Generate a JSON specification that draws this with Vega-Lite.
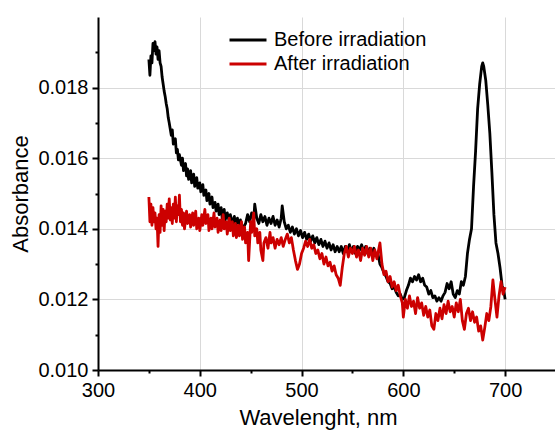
{
  "$schema": "https://vega.github.io/schema/vega-lite/v6.json",
  "autosize": "none",
  "width": 458,
  "height": 353,
  "padding": {"left": 98, "top": 17, "right": 0, "bottom": 60},
  "background": "white",
  "config": {
    "view": {"stroke": null},
    "axis": {
      "domainColor": "black", "domainWidth": 2,
      "tickColor": "black", "tickWidth": 2,
      "labelFont": "Liberation Sans", "labelFontSize": 20, "labelColor": "black",
      "titleFont": "Liberation Sans", "titleFontSize": 22, "titleFontWeight": "normal", "titleColor": "black",
      "gridColor": "#d9d9d9", "gridWidth": 1
    },
    "legend": {
      "labelFont": "Liberation Sans", "labelFontSize": 20, "labelColor": "black"
    }
  },
  "datasets": {
    "before": [
      {"w":350,"a":0.01880},{"w":351,"a":0.01835},{"w":352,"a":0.01890},{"w":353,"a":0.01870},{"w":354,"a":0.01925},{"w":355,"a":0.01905},{"w":356,"a":0.01930},{"w":357,"a":0.01895},{"w":358,"a":0.01915},{"w":359,"a":0.01880},{"w":360,"a":0.01905},{"w":361,"a":0.01870},{"w":362,"a":0.01860},{"w":363,"a":0.01830},{"w":364,"a":0.01810},{"w":365,"a":0.01790},{"w":366,"a":0.01775},{"w":367,"a":0.01755},{"w":368,"a":0.01740},{"w":369,"a":0.01715},{"w":370,"a":0.01700},{"w":372,"a":0.01665},{"w":373,"a":0.01680},{"w":374,"a":0.01640},{"w":376,"a":0.01655},{"w":377,"a":0.01615},{"w":378,"a":0.01625},{"w":379,"a":0.01595},{"w":380,"a":0.01610},{"w":382,"a":0.01580},{"w":383,"a":0.01600},{"w":384,"a":0.01565},{"w":386,"a":0.01585},{"w":387,"a":0.01550},{"w":388,"a":0.01570},{"w":389,"a":0.01540},{"w":391,"a":0.01565},{"w":392,"a":0.01530},{"w":394,"a":0.01555},{"w":395,"a":0.01520},{"w":397,"a":0.01545},{"w":398,"a":0.01515},{"w":400,"a":0.01530},{"w":401,"a":0.01505},{"w":403,"a":0.01525},{"w":404,"a":0.01495},{"w":406,"a":0.01510},{"w":407,"a":0.01480},{"w":409,"a":0.01500},{"w":410,"a":0.01470},{"w":412,"a":0.01490},{"w":413,"a":0.01460},{"w":415,"a":0.01475},{"w":416,"a":0.01450},{"w":418,"a":0.01470},{"w":419,"a":0.01440},{"w":421,"a":0.01460},{"w":422,"a":0.01430},{"w":424,"a":0.01455},{"w":425,"a":0.01425},{"w":427,"a":0.01445},{"w":429,"a":0.01420},{"w":430,"a":0.01440},{"w":432,"a":0.01415},{"w":434,"a":0.01435},{"w":435,"a":0.01410},{"w":437,"a":0.01430},{"w":439,"a":0.01405},{"w":440,"a":0.01425},{"w":442,"a":0.01400},{"w":445,"a":0.01415},{"w":447,"a":0.01440},{"w":449,"a":0.01420},{"w":451,"a":0.01445},{"w":453,"a":0.01425},{"w":454,"a":0.01470},{"w":456,"a":0.01430},{"w":458,"a":0.01415},{"w":460,"a":0.01440},{"w":462,"a":0.01420},{"w":464,"a":0.01435},{"w":466,"a":0.01410},{"w":468,"a":0.01430},{"w":470,"a":0.01415},{"w":472,"a":0.01435},{"w":474,"a":0.01410},{"w":476,"a":0.01425},{"w":478,"a":0.01405},{"w":480,"a":0.01430},{"w":481,"a":0.01465},{"w":483,"a":0.01420},{"w":485,"a":0.01400},{"w":487,"a":0.01410},{"w":489,"a":0.01390},{"w":491,"a":0.01405},{"w":493,"a":0.01385},{"w":495,"a":0.01400},{"w":497,"a":0.01380},{"w":499,"a":0.01395},{"w":501,"a":0.01375},{"w":503,"a":0.01390},{"w":505,"a":0.01370},{"w":507,"a":0.01385},{"w":509,"a":0.01365},{"w":511,"a":0.01380},{"w":513,"a":0.01360},{"w":515,"a":0.01375},{"w":517,"a":0.01355},{"w":519,"a":0.01370},{"w":521,"a":0.01350},{"w":523,"a":0.01365},{"w":525,"a":0.01345},{"w":527,"a":0.01360},{"w":529,"a":0.01340},{"w":531,"a":0.01355},{"w":533,"a":0.01335},{"w":535,"a":0.01350},{"w":537,"a":0.01335},{"w":539,"a":0.01350},{"w":541,"a":0.01330},{"w":543,"a":0.01350},{"w":545,"a":0.01335},{"w":547,"a":0.01355},{"w":549,"a":0.01335},{"w":551,"a":0.01350},{"w":553,"a":0.01330},{"w":555,"a":0.01350},{"w":557,"a":0.01340},{"w":559,"a":0.01355},{"w":561,"a":0.01335},{"w":563,"a":0.01350},{"w":565,"a":0.01330},{"w":567,"a":0.01345},{"w":569,"a":0.01330},{"w":571,"a":0.01345},{"w":573,"a":0.01325},{"w":575,"a":0.01330},{"w":577,"a":0.01300},{"w":579,"a":0.01290},{"w":581,"a":0.01275},{"w":583,"a":0.01265},{"w":585,"a":0.01250},{"w":587,"a":0.01245},{"w":589,"a":0.01230},{"w":591,"a":0.01235},{"w":593,"a":0.01220},{"w":595,"a":0.01210},{"w":597,"a":0.01215},{"w":599,"a":0.01200},{"w":601,"a":0.01205},{"w":603,"a":0.01225},{"w":605,"a":0.01240},{"w":607,"a":0.01260},{"w":609,"a":0.01250},{"w":611,"a":0.01265},{"w":613,"a":0.01255},{"w":615,"a":0.01270},{"w":617,"a":0.01250},{"w":619,"a":0.01260},{"w":621,"a":0.01240},{"w":623,"a":0.01235},{"w":625,"a":0.01215},{"w":627,"a":0.01225},{"w":629,"a":0.01205},{"w":631,"a":0.01210},{"w":633,"a":0.01195},{"w":635,"a":0.01205},{"w":637,"a":0.01195},{"w":639,"a":0.01210},{"w":641,"a":0.01220},{"w":643,"a":0.01245},{"w":645,"a":0.01230},{"w":647,"a":0.01250},{"w":649,"a":0.01215},{"w":651,"a":0.01205},{"w":653,"a":0.01225},{"w":655,"a":0.01215},{"w":657,"a":0.01250},{"w":659,"a":0.01240},{"w":661,"a":0.01265},{"w":663,"a":0.01330},{"w":665,"a":0.01370},{"w":667,"a":0.01400},{"w":669,"a":0.01520},{"w":671,"a":0.01620},{"w":673,"a":0.01740},{"w":675,"a":0.01810},{"w":677,"a":0.01860},{"w":678,"a":0.01870},{"w":679,"a":0.01860},{"w":681,"a":0.01820},{"w":683,"a":0.01750},{"w":685,"a":0.01670},{"w":687,"a":0.01560},{"w":689,"a":0.01440},{"w":691,"a":0.01360},{"w":693,"a":0.01330},{"w":695,"a":0.01290},{"w":697,"a":0.01240},{"w":699,"a":0.01220},{"w":700,"a":0.01200}
    ],
    "after": [
      {"w":350,"a":0.01490},{"w":351,"a":0.01420},{"w":352,"a":0.01470},{"w":353,"a":0.01410},{"w":354,"a":0.01460},{"w":355,"a":0.01420},{"w":356,"a":0.01445},{"w":357,"a":0.01400},{"w":358,"a":0.01430},{"w":359,"a":0.01350},{"w":360,"a":0.01440},{"w":361,"a":0.01390},{"w":362,"a":0.01465},{"w":363,"a":0.01410},{"w":364,"a":0.01455},{"w":365,"a":0.01395},{"w":366,"a":0.01450},{"w":367,"a":0.01420},{"w":368,"a":0.01470},{"w":369,"a":0.01430},{"w":370,"a":0.01485},{"w":371,"a":0.01425},{"w":372,"a":0.01460},{"w":373,"a":0.01415},{"w":374,"a":0.01470},{"w":375,"a":0.01430},{"w":376,"a":0.01490},{"w":377,"a":0.01420},{"w":378,"a":0.01465},{"w":379,"a":0.01440},{"w":380,"a":0.01495},{"w":381,"a":0.01420},{"w":382,"a":0.01455},{"w":383,"a":0.01410},{"w":384,"a":0.01445},{"w":385,"a":0.01400},{"w":387,"a":0.01450},{"w":388,"a":0.01415},{"w":390,"a":0.01440},{"w":391,"a":0.01405},{"w":393,"a":0.01445},{"w":394,"a":0.01410},{"w":396,"a":0.01450},{"w":397,"a":0.01400},{"w":399,"a":0.01430},{"w":400,"a":0.01395},{"w":402,"a":0.01440},{"w":403,"a":0.01410},{"w":405,"a":0.01455},{"w":406,"a":0.01415},{"w":408,"a":0.01440},{"w":409,"a":0.01395},{"w":411,"a":0.01430},{"w":412,"a":0.01400},{"w":414,"a":0.01445},{"w":415,"a":0.01405},{"w":417,"a":0.01430},{"w":418,"a":0.01390},{"w":420,"a":0.01425},{"w":421,"a":0.01395},{"w":423,"a":0.01440},{"w":424,"a":0.01400},{"w":426,"a":0.01420},{"w":427,"a":0.01385},{"w":429,"a":0.01430},{"w":430,"a":0.01395},{"w":432,"a":0.01420},{"w":433,"a":0.01380},{"w":435,"a":0.01415},{"w":436,"a":0.01375},{"w":438,"a":0.01410},{"w":439,"a":0.01380},{"w":441,"a":0.01420},{"w":442,"a":0.01370},{"w":444,"a":0.01405},{"w":445,"a":0.01360},{"w":447,"a":0.01390},{"w":448,"a":0.01310},{"w":450,"a":0.01420},{"w":451,"a":0.01390},{"w":453,"a":0.01445},{"w":454,"a":0.01380},{"w":456,"a":0.01400},{"w":457,"a":0.01360},{"w":459,"a":0.01390},{"w":460,"a":0.01340},{"w":462,"a":0.01310},{"w":463,"a":0.01360},{"w":465,"a":0.01375},{"w":467,"a":0.01345},{"w":469,"a":0.01390},{"w":470,"a":0.01360},{"w":472,"a":0.01375},{"w":474,"a":0.01345},{"w":476,"a":0.01370},{"w":478,"a":0.01355},{"w":480,"a":0.01375},{"w":482,"a":0.01350},{"w":484,"a":0.01370},{"w":486,"a":0.01385},{"w":488,"a":0.01360},{"w":490,"a":0.01375},{"w":492,"a":0.01340},{"w":494,"a":0.01310},{"w":496,"a":0.01285},{"w":498,"a":0.01300},{"w":500,"a":0.01330},{"w":502,"a":0.01345},{"w":504,"a":0.01365},{"w":506,"a":0.01350},{"w":508,"a":0.01370},{"w":510,"a":0.01345},{"w":512,"a":0.01355},{"w":514,"a":0.01330},{"w":516,"a":0.01340},{"w":518,"a":0.01315},{"w":520,"a":0.01330},{"w":522,"a":0.01300},{"w":524,"a":0.01320},{"w":526,"a":0.01295},{"w":528,"a":0.01305},{"w":530,"a":0.01280},{"w":532,"a":0.01295},{"w":534,"a":0.01270},{"w":536,"a":0.01260},{"w":538,"a":0.01240},{"w":540,"a":0.01290},{"w":542,"a":0.01330},{"w":544,"a":0.01350},{"w":546,"a":0.01320},{"w":548,"a":0.01345},{"w":550,"a":0.01330},{"w":552,"a":0.01350},{"w":554,"a":0.01320},{"w":556,"a":0.01340},{"w":558,"a":0.01310},{"w":560,"a":0.01345},{"w":562,"a":0.01325},{"w":564,"a":0.01350},{"w":566,"a":0.01320},{"w":568,"a":0.01345},{"w":570,"a":0.01310},{"w":572,"a":0.01340},{"w":574,"a":0.01315},{"w":576,"a":0.01345},{"w":577,"a":0.01360},{"w":579,"a":0.01300},{"w":581,"a":0.01270},{"w":583,"a":0.01280},{"w":585,"a":0.01250},{"w":587,"a":0.01265},{"w":589,"a":0.01235},{"w":591,"a":0.01250},{"w":593,"a":0.01225},{"w":595,"a":0.01240},{"w":597,"a":0.01210},{"w":599,"a":0.01190},{"w":600,"a":0.01150},{"w":602,"a":0.01200},{"w":604,"a":0.01175},{"w":606,"a":0.01210},{"w":608,"a":0.01180},{"w":610,"a":0.01195},{"w":612,"a":0.01160},{"w":614,"a":0.01205},{"w":616,"a":0.01175},{"w":618,"a":0.01190},{"w":620,"a":0.01155},{"w":622,"a":0.01180},{"w":624,"a":0.01150},{"w":626,"a":0.01170},{"w":628,"a":0.01125},{"w":630,"a":0.01115},{"w":632,"a":0.01160},{"w":634,"a":0.01140},{"w":636,"a":0.01175},{"w":638,"a":0.01145},{"w":640,"a":0.01185},{"w":642,"a":0.01160},{"w":644,"a":0.01195},{"w":646,"a":0.01165},{"w":648,"a":0.01180},{"w":650,"a":0.01150},{"w":652,"a":0.01190},{"w":654,"a":0.01165},{"w":656,"a":0.01200},{"w":658,"a":0.01140},{"w":660,"a":0.01115},{"w":662,"a":0.01160},{"w":664,"a":0.01175},{"w":666,"a":0.01140},{"w":668,"a":0.01165},{"w":670,"a":0.01135},{"w":672,"a":0.01150},{"w":674,"a":0.01110},{"w":676,"a":0.01125},{"w":678,"a":0.01085},{"w":680,"a":0.01120},{"w":682,"a":0.01160},{"w":684,"a":0.01140},{"w":686,"a":0.01180},{"w":688,"a":0.01255},{"w":690,"a":0.01200},{"w":692,"a":0.01150},{"w":694,"a":0.01210},{"w":696,"a":0.01250},{"w":698,"a":0.01215},{"w":700,"a":0.01235}
    ]
  },
  "encoding": {
    "x": {
      "field": "w", "type": "quantitative",
      "scale": {"domain": [300, 750], "nice": false, "zero": false},
      "axis": {
        "title": "Wavelenght, nm",
        "titleX": 220,
        "values": [300, 350, 400, 450, 500, 550, 600, 650, 700, 750],
        "labelExpr": "datum.value % 100 == 0 ? datum.label : ''",
        "tickSize": {"condition": {"test": "datum.value % 100 != 0", "value": 3}, "value": 6},
        "gridOpacity": {"condition": {"test": "datum.value % 100 != 0 || datum.value == 300", "value": 0}, "value": 1},
        "labelPadding": 4, "titlePadding": 7,
        "labelFlush": false, "labelOverlap": false
      }
    },
    "y": {
      "field": "a", "type": "quantitative",
      "scale": {"domain": [0.010, 0.020], "nice": false, "zero": false},
      "axis": {
        "title": "Absorbance",
        "values": [0.010, 0.011, 0.012, 0.013, 0.014, 0.015, 0.016, 0.017, 0.018, 0.019],
        "format": ".3f",
        "labelExpr": "round(datum.value * 1000) % 2 == 0 ? datum.label : ''",
        "tickSize": {"condition": {"test": "round(datum.value * 1000) % 2 == 1", "value": 3}, "value": 6},
        "gridOpacity": {"condition": {"test": "round(datum.value * 1000) % 2 == 1 || datum.value < 0.0105", "value": 0}, "value": 1},
        "labelPadding": 4, "titlePadding": 5,
        "labelFlush": false, "labelOverlap": false
      }
    }
  },
  "layer": [
    {
      "data": {"name": "before"},
      "mark": {"type": "line", "strokeWidth": 2.8, "strokeJoin": "round"},
      "encoding": {
        "color": {
          "datum": "Before irradiation",
          "type": "nominal",
          "scale": {"domain": ["Before irradiation", "After irradiation"], "range": ["#000000", "#cc0000"]},
          "legend": {
            "title": null, "orient": "none", "legendX": 139, "legendY": 12,
            "symbolType": "M-2,0L2,0", "symbolSize": 342, "symbolStrokeWidth": 3,
            "labelOffset": 15, "rowPadding": 3, "padding": 0
          }
        }
      }
    },
    {
      "data": {"name": "after"},
      "mark": {"type": "line", "strokeWidth": 2.8, "strokeJoin": "round"},
      "encoding": {
        "color": {"datum": "After irradiation", "type": "nominal"}
      }
    }
  ]
}
